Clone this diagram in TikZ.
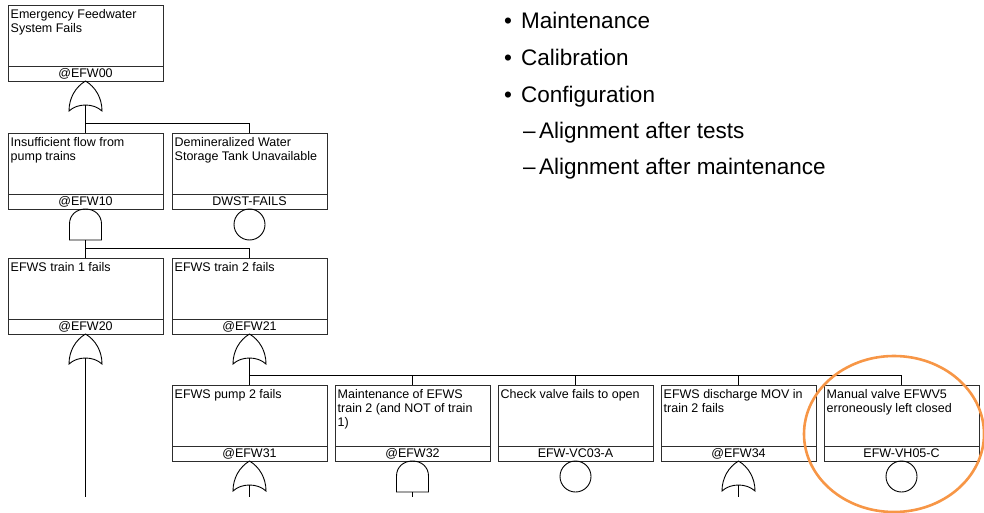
\documentclass[tikz,border=0pt]{standalone}
\usepackage{fontspec}
\setmainfont{Liberation Sans}
\definecolor{hlorange}{RGB}{247,150,70}
\definecolor{boxgray}{RGB}{45,45,45}
\newcommand\ftreebox[5]{%
  \node[treebox, anchor=north west] (#1) at (#2,#3) {};
  \draw[sepline] ([yshift=14.5pt]#1.south west) -- ([yshift=14.5pt]#1.south east);
  \node[boxtext] (#1-t) at ([xshift=2.5pt,yshift=-2pt]#1.north west) {\rule{0pt}{11pt}#4};
  \node[idtext] (#1-l) at ([yshift=3.6pt]#1.south) {#5};
}
\newcommand\fororgate[2]{%
  \begin{scope}[shift={(#2.south)}]
    \draw[gline] (0,0) .. controls (-10,6) and (-16.5,17) .. (-16.5,30)
      .. controls (-8,22) and (8,22) .. (16.5,30)
      .. controls (16.5,17) and (10,6) .. (0,0);
    \coordinate (#1) at (0,24);
  \end{scope}}
\newcommand\forandgate[2]{%
  \begin{scope}[shift={(#2.south)}]
    \draw[gline] (-16,31) -- (-16,15) .. controls (-16,6) and (-9,0) .. (0,0)
      .. controls (9,0) and (16,6) .. (16,15) -- (16,31) -- cycle;
    \coordinate (#1) at (0,31);
  \end{scope}}
\begin{document}
\begin{tikzpicture}[x=1pt,y=-1pt,
  treebox/.style={draw=boxgray, line width=0.9pt, minimum width=155pt, minimum height=76pt, inner sep=0pt, outer sep=0pt},
  sepline/.style={draw=boxgray, line width=0.9pt},
  boxtext/.style={font=\fontsize{12.5}{14}\selectfont, align=left, inner sep=0pt, anchor=north west},
  idtext/.style={font=\fontsize{12.5}{14}\selectfont, inner sep=0pt, anchor=base},
  gline/.style={draw=black, line width=0.9pt},
  basicev/.style={circle, draw=black, line width=0.9pt, minimum size=31pt, inner sep=0pt, outer sep=0pt, anchor=north},
  bigtext/.style={font=\fontsize{22.5}{27}\selectfont, inner sep=0pt, anchor=base west},
  hl/.style={draw=hlorange, line width=2.6pt}
]
\useasboundingbox (0,0) rectangle (984,513);

% boxes
\ftreebox{e00}{8}{5}{Emergency Feedwater\\System Fails}{@EFW00}
\ftreebox{e10}{8}{133}{Insufficient flow from\\pump trains}{@EFW10}
\ftreebox{dwst}{172}{133}{Demineralized Water\\Storage Tank Unavailable}{DWST-FAILS}
\ftreebox{e20}{8}{258}{EFWS train 1 fails}{@EFW20}
\ftreebox{e21}{172}{258}{EFWS train 2 fails}{@EFW21}
\ftreebox{e31}{172}{385}{EFWS pump 2 fails}{@EFW31}
\ftreebox{e32}{335}{385}{Maintenance of EFWS\\train 2 (and NOT of train\\1)}{@EFW32}
\ftreebox{vc03}{498}{385}{Check valve fails to open}{EFW-VC03-A}
\ftreebox{e34}{661}{385}{EFWS discharge MOV in\\train 2 fails}{@EFW34}
\ftreebox{vh05}{824}{385}{Manual valve EFWV5\\erroneously left closed}{EFW-VH05-C}

% gates
\fororgate{g00}{e00}
\forandgate{g10}{e10}
\node[basicev] (cdwst) at (dwst.south) {};
\fororgate{g20}{e20}
\fororgate{g21}{e21}
\fororgate{g31}{e31}
\forandgate{g32}{e32}
\node[basicev] (cvc03) at (vc03.south) {};
\fororgate{g34}{e34}
\node[basicev] (cvh05) at (vh05.south) {};

% connectors
\draw[gline] (g00) |- ([yshift=10pt]e10.north) -- (e10.north);
\draw[gline] (g00) |- ([yshift=10pt]dwst.north) -- (dwst.north);
\draw[gline] (g10) |- ([yshift=10pt]e20.north) -- (e20.north);
\draw[gline] (g10) |- ([yshift=10pt]e21.north) -- (e21.north);
\foreach \c in {e31,e32,vc03,e34,vh05}
  \draw[gline] (g21) |- ([yshift=10pt]\c.north) -- (\c.north);
\coordinate (bottom) at (0,497);
\coordinate (b20) at (g20 |- bottom);
\coordinate (b31) at (g31 |- bottom);
\coordinate (b32) at (g32 |- bottom);
\coordinate (b34) at (g34 |- bottom);
\draw[gline] (g20) -- (b20);
\draw[gline] (g31) -- (b31);
\draw[gline] (g32) -- (b32);
\draw[gline] (g34) -- (b34);

% bullet list
\node[bigtext] (bu1) at (504,29) {•};
\node[bigtext] (t1) at (521,29) {Maintenance};
\node[bigtext] (bu2) at (504,66) {•};
\node[bigtext] (t2) at (521,66) {Calibration};
\node[bigtext] (bu3) at (504,103) {•};
\node[bigtext] (t3) at (521,103) {Configuration};
\node[bigtext] (d1) at (523,139) {–};
\node[bigtext] (t4) at (539,139) {Alignment after tests};
\node[bigtext] (d2) at (523,175) {–};
\node[bigtext] (t5) at (539,175) {Alignment after maintenance};

% highlight
\draw[hl] (894,434) ellipse [x radius=90, y radius=78];
\end{tikzpicture}
\end{document}
